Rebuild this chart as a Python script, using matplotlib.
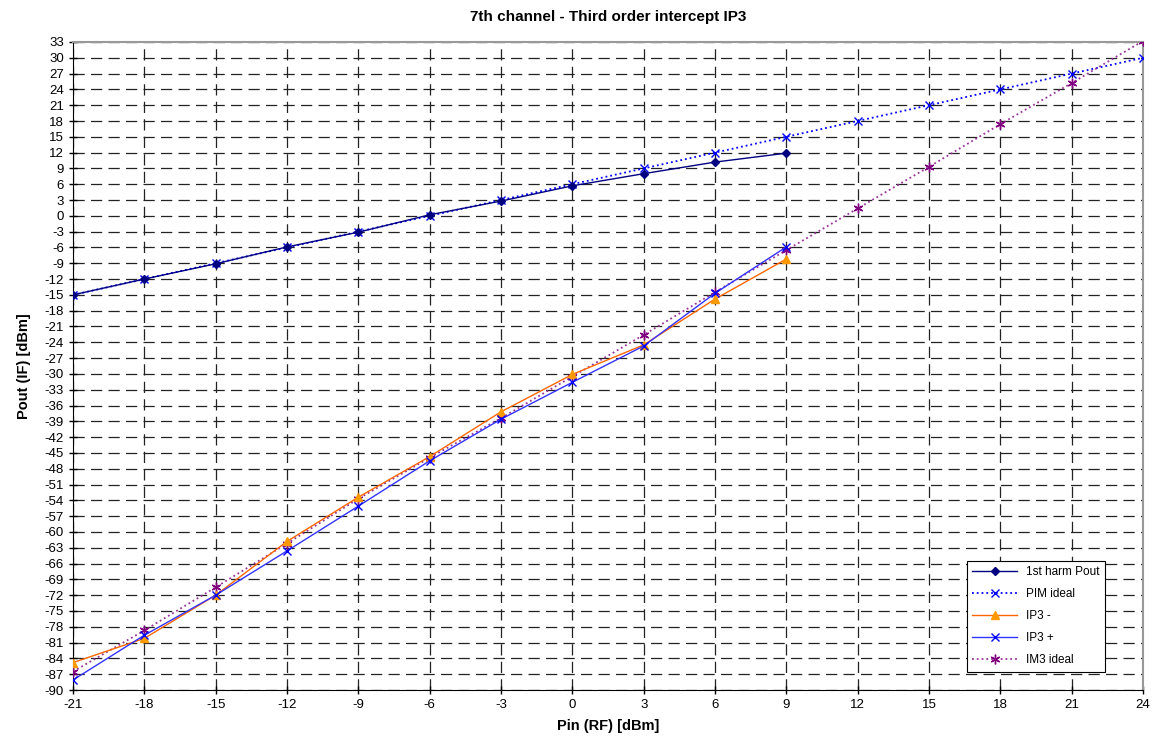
import numpy as np
import matplotlib
matplotlib.use('Agg')
import matplotlib.pyplot as plt

plt.rcParams['font.family'] = ['Liberation Sans', 'DejaVu Sans']
plt.rcParams['axes.unicode_minus'] = False

# data
pin_meas = [-21, -18, -15, -12, -9, -6, -3, 0, 3, 6, 9]
pin_ideal = [-21, -18, -15, -12, -9, -6, -3, 0, 3, 6, 9, 12, 15, 18, 21, 24]

pout_1st = [-15.0, -12.0, -9.1, -5.9, -3.1, 0.2, 2.8, 5.7, 8.0, 10.2, 11.9]
pim_ideal = [-15, -12, -9, -6, -3, 0, 3, 6, 9, 12, 15, 18, 21, 24, 27, 30]
ip3_minus = [-84.8, -80.2, -72.0, -61.8, -53.4, -45.7, -37.2, -30.1, -24.5, -15.8, -8.2]
ip3_plus = [-88.1, -79.6, -72.0, -63.6, -55.1, -46.5, -38.6, -31.6, -24.7, -14.7, -5.9]
im3_ideal = [-86.5, -78.7, -70.5, -62.2, -53.7, -45.9, -38.4, -30.5, -22.6, -14.5,
             -6.5, 1.4, 9.3, 17.4, 25.2, 33.2]

x_ticks = np.arange(-21, 25, 3)
y_ticks = np.arange(-90, 34, 3)

fig = plt.figure(figsize=(11.55, 7.47), dpi=100)
ax = fig.add_axes([0.0632, 0.0763, 0.9264, 0.8675])

ax.plot(pin_meas, pout_1st, color='#000080', lw=1, marker='D', ms=4,
        label='1st harm Pout', zorder=5)
ax.plot(pin_ideal, pim_ideal, color='#0000FF', lw=1.3, ls=':', marker='x', ms=6,
        mew=1, label='PIM ideal', zorder=4)
ax.plot(pin_meas, ip3_minus, color='#FF6600', lw=1, marker='^', ms=6,
        mfc='#FF9900', mec='#FF9900', label='IP3 -', zorder=5)
ax.plot(pin_meas, ip3_plus, color='#3333FF', lw=1, marker='x', ms=6, mew=1,
        mec='#0000FF', label='IP3 +', zorder=5)
ax.plot(pin_ideal, im3_ideal, color='#993399', lw=1.3, ls=':', marker=(6, 2, 0),
        ms=7, mec='#800080', mew=1, label='IM3 ideal', zorder=4)

ax.set_xlim(-21, 24)
ax.set_ylim(-90, 33)
ax.set_xticks(x_ticks)
ax.set_yticks(y_ticks)
ax.tick_params(direction='inout', length=6, labelsize=9.5, width=1)
ax.grid(True, color='#222222', ls=(0, (9, 5)), lw=0.9)

for side in ['top', 'right']:
    ax.spines[side].set_color('#999999')
    ax.spines[side].set_linewidth(1.5)
for side in ['left', 'bottom']:
    ax.spines[side].set_color('black')

ax.set_title('7th channel - Third order intercept IP3', fontsize=11,
             fontweight='bold', pad=15)
ax.set_xlabel('Pin (RF) [dBm]', fontsize=10.5, fontweight='bold', labelpad=6)
ax.set_ylabel('Pout (IF) [dBm]', fontsize=10.5, fontweight='bold', labelpad=10)

leg = ax.legend(loc='lower right', bbox_to_anchor=(0.962, 0.093),
                bbox_transform=fig.transFigure, fontsize=8.5, frameon=True,
                fancybox=False, edgecolor='black', framealpha=1,
                borderpad=0.45, labelspacing=0.85, handlelength=3.8)
leg.get_frame().set_linewidth(0.8)

fig.savefig('out.png', dpi=100)
